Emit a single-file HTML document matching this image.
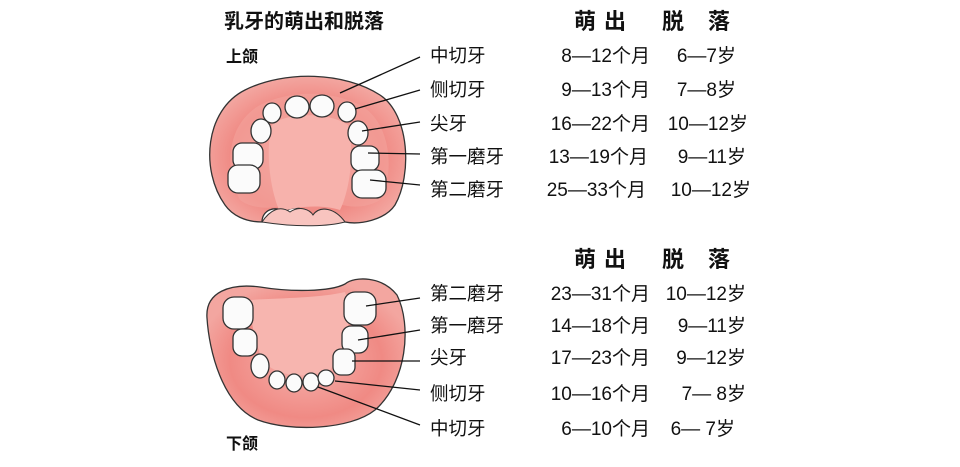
<!DOCTYPE html>
<html><head><meta charset="utf-8"><style>
html,body{margin:0;padding:0;background:#fff;width:960px;height:467px;overflow:hidden}
svg{display:block}
text{font-family:"Liberation Sans","Noto Sans CJK SC",sans-serif;fill:#111}
.t{font-size:18.5px}
.h{font-size:22px;font-weight:bold}
.tooth{fill:#fbfbfb;stroke:#333;stroke-width:1.3}
.ln{stroke:#111;stroke-width:1.3;fill:none}
</style></head><body>
<svg width="960" height="467" viewBox="0 0 960 467" xmlns="http://www.w3.org/2000/svg">
<defs>
<radialGradient id="g1" cx="50%" cy="55%" r="55%">
<stop offset="0" stop-color="#f6b3ae"/><stop offset="0.7" stop-color="#f08a84"/><stop offset="1" stop-color="#f3a6a0"/>
</radialGradient>
</defs>
<text x="224" y="28" style="font-size:20px;font-weight:bold">乳牙的萌出和脱落</text>
<text x="226" y="62" style="font-size:16px;font-weight:bold">上颌</text>
<text x="226" y="449" style="font-size:16px;font-weight:bold">下颌</text>

<!-- upper jaw -->
<path d="M225,205 C200,170 205,110 245,90 C285,70 345,72 380,95 C410,115 412,175 395,205 C385,220 360,225 345,222 C335,210 320,205 313,215 C305,208 292,205 285,212 C275,205 262,210 262,222 C245,222 232,215 225,205 Z" fill="url(#g1)" stroke="#333" stroke-width="1.3"/>
<path d="M240,200 C225,170 225,125 260,105 C290,90 330,90 360,105 C392,122 395,175 380,200 C360,212 340,205 325,200 C310,198 295,198 285,205 C270,210 250,208 240,200 Z" fill="#f4a39d" opacity="0.6"/>
<path d="M272,125 C285,112 330,112 348,125 C355,150 350,190 340,210 C325,205 300,205 280,212 C270,190 265,150 272,125 Z" fill="#f7b2ac"/>
<path d="M262,222 C270,210 280,205 290,212 C300,205 310,210 313,215 C320,205 335,208 345,222 C330,226 300,228 262,222 Z" fill="#f8c4bf" stroke="#333" stroke-width="1"/>
<ellipse cx="297" cy="107" rx="12" ry="11" class="tooth"/>
<ellipse cx="322" cy="106" rx="12" ry="11" class="tooth"/>
<ellipse cx="272" cy="113" rx="9" ry="10" class="tooth"/>
<ellipse cx="347" cy="112" rx="9" ry="10" class="tooth"/>
<ellipse cx="261" cy="131" rx="10" ry="12" class="tooth"/>
<ellipse cx="358" cy="133" rx="10" ry="12" class="tooth"/>
<rect x="233" y="143" width="30" height="26" rx="9" class="tooth"/>
<rect x="351" y="146" width="28" height="25" rx="9" class="tooth"/>
<rect x="228" y="165" width="32" height="28" rx="10" class="tooth"/>
<rect x="352" y="170" width="34" height="28" rx="10" class="tooth"/>

<!-- lower jaw -->
<path d="M207,318 C205,292 230,283 260,287 C290,292 330,292 345,284 C355,276 382,276 397,295 C412,325 407,382 375,410 C350,430 290,432 258,420 C222,405 209,350 207,318 Z" fill="url(#g1)" stroke="#333" stroke-width="1.3"/>
<path d="M250,300 C280,298 320,298 345,292 C355,320 345,350 330,370 C300,380 275,375 262,360 C255,340 250,320 250,300 Z" fill="#f7b5af"/>
<rect x="223" y="297" width="30" height="32" rx="11" class="tooth"/>
<rect x="344" y="292" width="32" height="33" rx="11" class="tooth"/>
<rect x="233" y="329" width="24" height="27" rx="9" class="tooth"/>
<rect x="342" y="326" width="26" height="27" rx="9" class="tooth"/>
<ellipse cx="260" cy="366" rx="9" ry="12" class="tooth"/>
<rect x="333" y="349" width="22" height="26" rx="8" class="tooth"/>
<ellipse cx="277" cy="380" rx="8" ry="9" class="tooth"/>
<ellipse cx="294" cy="383" rx="8" ry="9" class="tooth"/>
<ellipse cx="311" cy="382" rx="8" ry="9" class="tooth"/>
<ellipse cx="326" cy="378" rx="8" ry="8" class="tooth"/>

<!-- leader lines -->
<path class="ln" d="M340,93 L420,57 M355,109 L420,90 M362,131 L420,122 M368,153 L420,154 M370,180 L420,185"/>
<path class="ln" d="M366,306 L420,298 M358,340 L420,330 M352,361 L420,361 M335,381 L420,390 M318,387 L420,425"/>

<!-- labels -->
<g class="t">
<text x="430" y="62">中切牙</text><text x="430" y="96">侧切牙</text><text x="430" y="130">尖牙</text><text x="430" y="163">第一磨牙</text><text x="430" y="196">第二磨牙</text>
<text x="430" y="300">第二磨牙</text><text x="430" y="332">第一磨牙</text><text x="430" y="364">尖牙</text><text x="430" y="400">侧切牙</text><text x="430" y="435">中切牙</text>
</g>
<g class="h">
<text x="574" y="29">萌</text><text x="604" y="29">出</text><text x="662" y="29">脱</text><text x="708" y="29">落</text>
<text x="574" y="267">萌</text><text x="604" y="267">出</text><text x="662" y="267">脱</text><text x="708" y="267">落</text>
</g>
<g class="t" text-anchor="end" style="font-size:19px">
<text x="650" y="62">8—12个月</text><text x="650" y="96">9—13个月</text><text x="650" y="130">16—22个月</text><text x="648" y="163">13—19个月</text><text x="646" y="196">25—33个月</text>
<text x="650" y="300">23—31个月</text><text x="650" y="332">14—18个月</text><text x="650" y="364">17—23个月</text><text x="650" y="400">10—16个月</text><text x="650" y="435">6—10个月</text>
</g>
<g class="t" text-anchor="end" style="font-size:19px">
<text x="736" y="62">6—7岁</text><text x="736" y="96">7—8岁</text><text x="748" y="130">10—12岁</text><text x="746" y="163">9—11岁</text><text x="751" y="196">10—12岁</text>
<text x="746" y="300">10—12岁</text><text x="746" y="332">9—11岁</text><text x="746" y="364">9—12岁</text><text x="746" y="400">7— 8岁</text><text x="735" y="435">6— 7岁</text>
</g>
</svg>
</body></html>
